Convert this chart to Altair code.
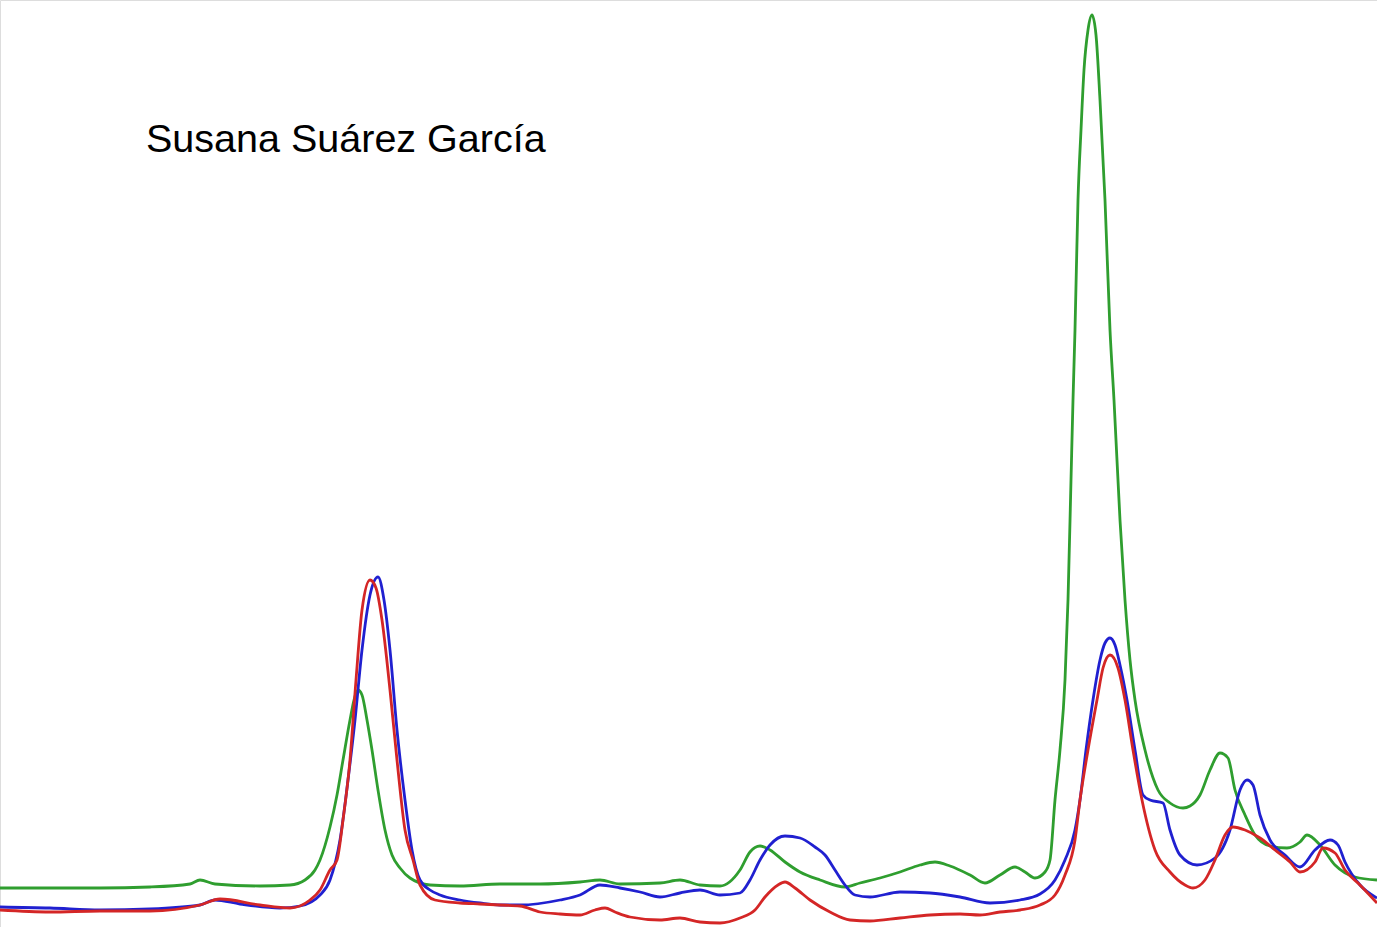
import altair as alt
import pandas as pd

# Retention position (arbitrary units) and detector signal (arbitrary units)
green_x = [0, 50, 100, 150, 190, 200, 215, 260, 290, 305, 315, 320, 330, 337, 343, 350, 354, 358, 362, 367, 372, 378, 385, 392, 400, 410, 430, 460, 500, 540, 580, 600, 620, 660, 680, 700, 720, 740, 750, 760, 770, 785, 800, 820, 845, 860, 880, 900, 920, 935, 950, 970, 985, 1000, 1015, 1025, 1035, 1045, 1050, 1055, 1060, 1065, 1068, 1071, 1073, 1075, 1078, 1081, 1084, 1088, 1092, 1096, 1100, 1105, 1110, 1114, 1120, 1125, 1130, 1135, 1145, 1158, 1170, 1183, 1190, 1200, 1210, 1220, 1228, 1235, 1245, 1255, 1270, 1287, 1300, 1307, 1320, 1335, 1355, 1377]
green_y = [888, 888, 888, 887, 884, 880, 884, 886, 885, 880, 870, 860, 827, 795, 760, 720, 700, 690, 695, 720, 750, 790, 830, 855, 868, 878, 885, 886, 884, 884, 882, 880, 884, 883, 880, 885, 886, 870, 852, 846, 850, 862, 872, 880, 887, 883, 878, 872, 865, 862, 866, 875, 883, 875, 867, 872, 878, 872, 860, 800, 750, 680, 600, 480, 400, 330, 200, 130, 70, 30, 15, 35, 100, 200, 330, 400, 520, 600, 660, 700, 750, 790, 803, 808, 806, 795, 770, 753, 758, 790, 815, 835, 846, 848, 842, 835, 845, 865, 877, 880]

blue_x = [0, 50, 100, 150, 200, 215, 240, 280, 300, 320, 330, 340, 348, 355, 362, 370, 378, 384, 390, 397, 405, 412, 420, 430, 440, 460, 480, 500, 520, 560, 580, 600, 620, 640, 660, 680, 700, 720, 740, 750, 760, 770, 785, 800, 815, 825, 835, 845, 855, 870, 900, 930, 960, 990, 1020, 1040, 1055, 1065, 1075, 1080, 1086, 1093, 1100, 1105, 1110, 1115, 1120, 1127, 1135, 1143, 1150, 1163, 1170, 1180, 1197, 1215, 1230, 1240, 1247, 1253, 1260, 1270, 1285, 1300, 1315, 1330, 1338, 1345, 1360, 1377]
blue_y = [907, 908, 910, 909, 905, 900, 904, 908, 906, 895, 880, 840, 780, 720, 650, 595, 577, 600, 650, 730, 800, 850, 880, 890, 895, 900, 903, 905, 905, 900, 895, 885, 888, 892, 897, 893, 890, 895, 893, 880, 860, 845, 836, 838, 847, 855, 870, 885, 895, 897, 892, 893, 897, 903, 900, 894, 880, 860, 830, 800, 750, 700, 660, 643, 638, 645, 665, 700, 750, 795, 800, 803, 830, 855, 865, 858, 830, 790, 780, 785, 815, 840, 855, 867, 850, 840, 845, 862, 885, 898]

red_x = [0, 50, 100, 150, 200, 220, 260, 290, 310, 320, 330, 337, 343, 350, 356, 362, 370, 376, 382, 390, 397, 405, 413, 420, 435, 460, 480, 500, 520, 540, 560, 580, 595, 605, 615, 630, 660, 680, 700, 720, 740, 755, 765, 778, 785, 795, 810, 830, 850, 870, 900, 930, 960, 980, 1000, 1020, 1040, 1055, 1065, 1075, 1080, 1088, 1097, 1103, 1110, 1118, 1125, 1133, 1142, 1155, 1170, 1185, 1193, 1205, 1215, 1225, 1233, 1245, 1260, 1275, 1290, 1300, 1315, 1323, 1335, 1345, 1360, 1377]
red_y = [910, 912, 911, 911, 905, 899, 905, 908, 900, 890, 870, 860, 820, 760, 680, 610, 580, 588, 620, 690, 760, 830, 860, 885, 900, 903, 904, 905, 906, 912, 914, 915, 910, 908, 912, 917, 920, 918, 922, 923, 918, 910, 897, 885, 882, 888, 900, 912, 920, 921, 918, 915, 914, 915, 912, 910, 905, 895, 875, 840, 800, 750, 700, 668, 655, 668, 700, 750, 800, 850, 872, 885, 888, 880, 860, 835, 827, 830, 838, 850, 862, 872, 862, 848, 853, 870, 885, 903]

series_names = ["green", "blue", "red"]
series_colors = ["#2f9e2f", "#2020d0", "#d42626"]
label_text = "Susana Suárez García"

H = 927
rows = []
for order, (name, xs, ys) in enumerate([("green", green_x, green_y), ("blue", blue_x, blue_y), ("red", red_x, red_y)]):
    for i, (x, y) in enumerate(zip(xs, ys)):
        rows.append({"series": name, "order": order, "i": i, "t": x, "signal": H - y})
df = pd.DataFrame(rows)

lines = alt.Chart(df).mark_line(strokeWidth=2.8, interpolate="monotone").encode(
    x=alt.X("t:Q", scale=alt.Scale(domain=[0, 1377], nice=False, zero=False), axis=None),
    y=alt.Y("signal:Q", scale=alt.Scale(domain=[0, 927], nice=False, zero=False), axis=None),
    color=alt.Color("series:N", scale=alt.Scale(domain=series_names, range=series_colors), legend=None),
    detail="series:N",
    order="i:Q",
)

label = alt.Chart(pd.DataFrame({"text": [label_text]})).mark_text(
    align="left", baseline="alphabetic", font="Liberation Sans", fontSize=39.5, color="#000000"
).encode(x=alt.value(146), y=alt.value(152), text="text:N")

chart = alt.layer(lines, label).properties(
    width=1377, height=927, padding=0, autosize=alt.AutoSizeParams(type="none")
).configure_view(stroke=None).configure(background="#ffffff")

chart.save("out.html", embed_options={"renderer": "svg", "actions": False})
